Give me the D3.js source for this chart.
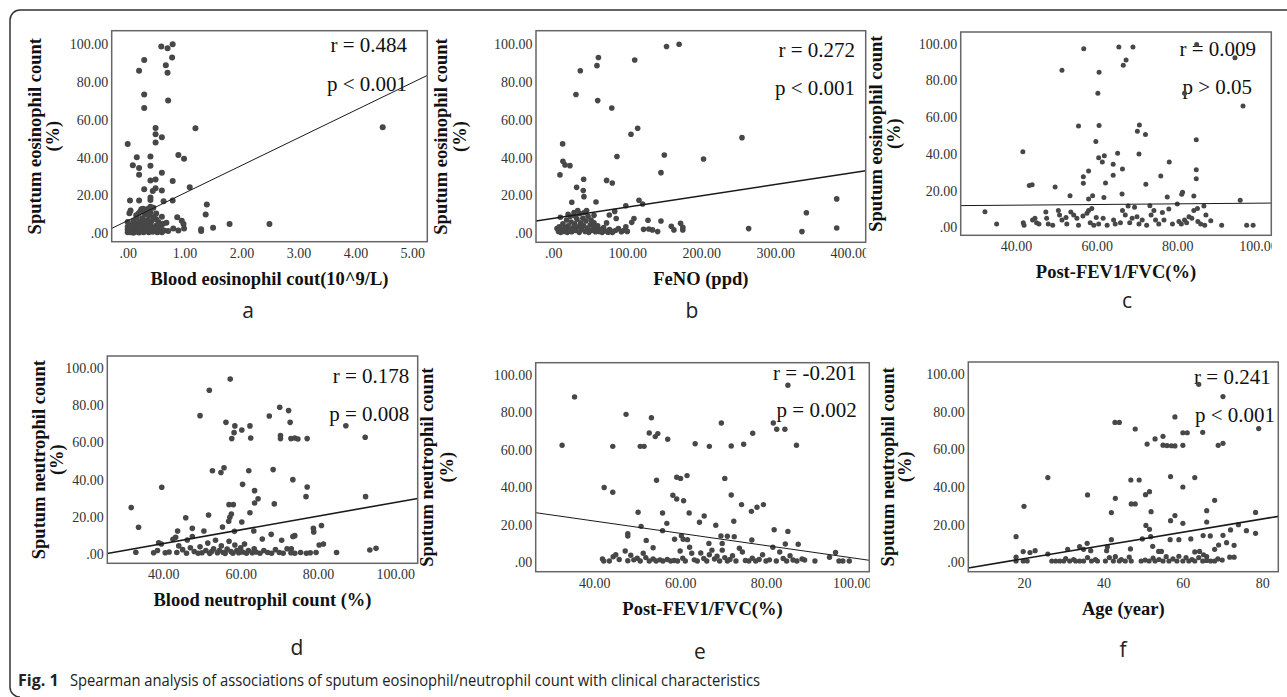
<!DOCTYPE html>
<html><head><meta charset="utf-8">
<script src="https://cdn.jsdelivr.net/npm/d3@7"></script>
<style>body{margin:0;background:#fff} svg{display:block}</style>
</head><body>
<svg id="chart" width="1287" height="697"></svg>
<script>
// ---------------- DATA ----------------
const ptsA = [[0.59,98.8],[0.70,97.9],[0.79,100],[0.29,91.7],[0.78,93],[0.20,86],[0.67,88.9],[0.70,85],[0.29,73.4],[0.71,70.2],[0.29,66.3],[1.19,55.6],[4.48,56.1],[0.49,55.7],[0.49,52.4],[0.60,50.8],[0.49,48],[0.0,47.3],[0.16,40.2],[0.40,40.6],[0.89,41.4],[0.99,39.5],[0.09,36],[0.20,34.6],[0.40,35.8],[0.20,31],[0.60,32],[0.40,28],[0.49,28.4],[0.79,27.7],[0.29,23.3],[1.09,24.3],[0.49,23.8],[0.44,22.4],[0.60,22.6],[0.40,19],[0.40,17.6],[0.04,17.3],[0.20,17.3],[0.63,16.9],[0.79,17.3],[1.39,15.3],[1.37,10],[0.03,10.6],[0.24,12.7],[0.40,14.1],[0.60,8.8],[0.68,5.6],[0.87,8.5],[0.95,6.7],[0.98,4.9],[1.79,4.9],[2.49,4.9],[1.50,3],[1.29,2.1],[1.29,1.2],[0.80,2.6],[0.89,1.5],[0.99,2.6],[0.60,1.8],[0.71,1.2],
[0.0,0.5],[0.0,2],[0.0,3.5],[0.02,1],[0.05,0.5],[0.05,2.8],[0.08,1.5],[0.08,4.5],[0.1,0.3],[0.1,6.5],[0.12,2.2],[0.14,0.8],[0.15,4],[0.16,8.5],[0.18,1.5],[0.19,10.5],[0.2,0.4],[0.2,3],[0.2,6],[0.22,11.5],[0.24,1.2],[0.25,4.8],[0.26,8],[0.28,0.6],[0.29,2.5],[0.3,5.5],[0.3,10],[0.31,12],[0.33,1.5],[0.34,3.8],[0.35,7],[0.37,0.5],[0.38,9.5],[0.4,2],[0.4,4.5],[0.4,11],[0.42,6.5],[0.44,0.8],[0.45,3],[0.46,8.5],[0.48,1.5],[0.5,4],[0.5,10.5],[0.52,0.5],[0.54,6],[0.55,2.5],[0.58,3.5],[0.6,0.6],[0.62,5],[0.64,1.5],[0.05,12],[0.12,5.5],[0.27,13],[0.35,12.8],[0.15,9.5],[0.45,13.5],[0.0,6],[0.33,6],[0.5,7.5]];

const ptsB = [[153,98.8],[170,100],[61,93],[110,91.7],[59,88.7],[36.5,86],[30.6,73.4],[60,70.2],[79,66.3],[114,55.6],[105,52.4],[255,50.6],[12.6,47.3],[86,40.6],[150,41.4],[203,39.3],[13,38.1],[15.8,36.2],[22.5,35.8],[9,30.9],[145.5,32.1],[41,28.6],[72,28],[79.7,26.6],[31.5,24.3],[40.5,22.6],[41.4,19.4],[25,16.4],[57.7,16.6],[115.8,17.5],[120.7,15.5],[98,14.6],[383,18.2],[342,10.9],[9.5,8.5],[83,11.6],[75.7,9.7],[85,7.8],[128,6.9],[145.5,6.5],[109,7.8],[106,5.8],[172,5.3],[159.5,3.7],[163,1.8],[175,1.8],[175,3.2],[122,2.1],[129,2.3],[134,1.8],[141,0.9],[264,2.5],[336,0.9],[383,2.8],
[5,2.5],[7,1],[8,3.5],[10,0.5],[12,2],[13,5],[15,1],[16,3],[18,7],[19,0.5],[20,4],[22,2],[23,9],[24,6],[25,0.8],[27,3],[28,11],[29,5],[30,1.5],[32,7.5],[33,12],[34,3.5],[35,0.5],[36,10.5],[37,5.5],[38,2],[40,8],[41,4],[42,11],[43,1],[44,6.5],[46,2.8],[47,9],[48,0.5],[50,4.5],[51,7],[52,1.5],[54,3],[55,5.5],[57,0.8],[58,2.5],[60,4],[62,1],[64,2],[66,0.5],[68,3],[70,1.2],[72,5.5],[74,0.6],[76,2],[78,1],[80,0.5],[84,1.5],[88,2.5],[92,0.8],[95,1.5],[98,3.5],[100,1],[30,9],[45,12],[20,10],[55,9.5]];

const ptsC = [[56.8,97.3],[65.5,98.2],[69,98.2],[84.8,99.6],[67.3,91.1],[66.6,88.2],[94.3,92.4],[51.4,85.5],[60.6,84.4],[60.3,73],[81.8,73],[96.3,66.1],[55.5,55.2],[60.6,55.4],[70.6,55.7],[70.1,52.3],[72.1,50.5],[84.7,47.7],[59.8,46.8],[41.7,41.2],[60.5,37.9],[61.9,39],[61.4,35.6],[65.2,40.3],[70.5,39.9],[78,35.6],[64.1,34.3],[66.4,31.8],[84.7,31.4],[58,30.7],[56.7,27.6],[64.1,28.3],[75.9,27.9],[84.7,26.5],[43.3,22.7],[44,23.2],[49.7,22],[56.7,24],[62.2,24.1],[72.2,23.4],[53.4,17.2],[59,17.2],[58,15.4],[61.8,16.2],[66.3,18.1],[77.5,16.5],[81.1,18],[81.3,19.1],[84.1,17.1],[95.6,14.7],[32.3,8.5],[35.2,1.8],[91,1.1],[97.2,1.1],[98.8,1.1],
[41.8,2.5],[42,1.1],[44.1,4],[44.7,4.9],[45.1,2.5],[45.7,1.8],[47.4,8.3],[47.6,4.9],[48,1.8],[49.1,1.1],[50.5,9.1],[50.8,6.7],[51.4,4],[52.4,5.4],[52.6,1.8],[53.6,8.3],[54.3,6.7],[55.1,4.9],[55.5,1.1],[56.6,6.2],[57.6,7.6],[58,9.1],[58.8,10.3],[58.4,2.5],[59.3,1.1],[59.9,5.4],[60.5,1.8],[61.6,4.9],[62.6,1.1],[64.2,4],[64.6,1.8],[65.9,2.5],[66.4,9.1],[67.1,6.7],[67.8,11.6],[68.2,2.5],[68.8,4.9],[69.4,10.9],[70,5.8],[70.5,1.8],[71.3,4],[72.4,1.1],[73.2,11.8],[73.5,6.7],[74.2,9.1],[74.6,4],[75.4,1.8],[76.3,8],[76.7,4],[77.9,10],[78.8,1.8],[80,12.7],[80.4,3.1],[81,1.8],[81.8,4],[82.3,2.5],[82.9,5.8],[83.6,4.9],[84.1,9.1],[85,10.3],[85.1,3.1],[85.8,1.8],[86.6,11.6],[87.1,6.7],[86.8,1.1],[88.3,3.6]];

const ptsD = [[57.3,93.9],[51.9,87.9],[49.5,74.3],[67.4,74.1],[70.1,78.8],[72.4,77],[72.8,70.7],[56.2,70.7],[58.5,68.8],[58.3,65.2],[57.7,62],[60.3,66.6],[62.4,68.8],[62.6,62.3],[70.3,63.6],[70.3,62],[73,62],[74,62.3],[74.8,61.8],[77.2,62],[87.2,68.9],[92.2,62.7],[92.3,30.9],[52.7,44.8],[54.9,43.8],[55.7,46.4],[62.1,44.8],[68.4,45.4],[39.6,35.9],[60.5,37.5],[73.5,40],[77.2,36.1],[76.9,30.9],[63.6,34.1],[64.5,29.8],[63.6,27.5],[57,26.6],[58.1,26.6],[68.7,27],[31.7,25],[33.6,14.5],[45.8,19.6],[51.7,21.1],[57.6,21.6],[57.2,19.8],[56.9,17.7],[62.4,22.3],[60.3,17.3],[55.3,14.6],[58.4,12.3],[63.4,12.5],[43.7,12.5],[50.5,12.5],[47.5,13.9],[78.8,13.9],[78.9,12],[80.9,15.4],[67.9,10.7],[74,10],[73.5,9.5],[65.6,8.2],[70.6,7.5],[73.1,2.9],[81.4,5.5],[80.3,5],[84.8,1],[93.4,2.3],[95,3.2],[32.9,1.1],[38.8,6.2],[43.2,9.1],[46.2,7.7],
[37.5,0.8],[38.5,2],[39.5,5.5],[40.5,0.8],[41.5,1.2],[42.5,8],[43.5,1],[44,4.5],[45,2.5],[46,0.6],[47,3.5],[47.5,9.5],[48,1.5],[49,0.6],[49.5,4],[50,0.8],[51,2],[51.5,6],[52,0.5],[52.5,1.5],[53,3],[53.5,7.5],[54,0.8],[54.5,2],[55,4.5],[55.5,1],[56,0.5],[56.5,2.8],[57,7],[57.5,1.5],[58,0.6],[58.5,5],[59,2],[59.5,0.8],[60,3.5],[60.5,1.2],[61,5.5],[61.5,0.6],[62,2],[63,0.8],[63.5,3],[64,1.2],[65,0.6],[66,2],[67,1],[68,0.6],[69,2.5],[70,1],[71,0.6],[72,3],[73,0.8],[74,0.6],[75.5,1],[77,0.6],[78,0.8],[79.5,1]];

const ptsE = [[32.5,62.5],[35.4,88.3],[47.4,79],[53.3,77.2],[52.8,69],[54.8,68.7],[54.2,67.1],[57.1,65.7],[50.7,61.9],[51.6,61.9],[44.3,61.9],[63.5,63.3],[66.8,61.9],[69.6,74.4],[71.9,62.1],[74.8,63],[76.9,68.9],[81.7,74.4],[82.5,71],[84.4,71],[87.1,62.5],[85.1,94.5],[42.3,39.9],[44.3,37.4],[54.5,43.8],[59.2,45.4],[60.1,44.8],[61.6,46.3],[70.4,44.8],[58.3,35.8],[59.2,33.8],[60.8,32.9],[71.9,35.9],[74.3,30.8],[76.6,27.2],[77.9,29.4],[79.4,30.8],[50.2,26.7],[55.9,26.3],[62.1,26.3],[65.6,24.7],[50.9,19.2],[56.9,20.8],[64.5,21.4],[68.3,19.8],[72.5,21.9],[47.8,15.3],[47.8,14],[55.9,16.9],[81.9,17.4],[85.1,16.5],[52.1,11.7],[53.7,7.8],[58.7,12.3],[60.3,14.2],[60.7,12.3],[61.7,12.1],[76.7,11.9],[69.5,14.1],[71,13.9],[72.6,13.7],[66.7,10.1],[69.8,10.1],[84.5,9.8],[87.5,9.6],[91.4,0.7],[94.8,2.7],[96.2,5.2],[97,0.7],[97.9,0.7],[99.4,0.7],
[41.9,1.8],[42.2,0.7],[43.5,0.7],[44.4,3],[45,4],[45.8,1.5],[47.2,6],[47.8,0.8],[48.5,3.8],[49.2,1.3],[50,2.2],[50.7,0.7],[51.4,4.8],[52,2.5],[52.8,0.7],[53.7,1.8],[54.4,0.7],[55.3,1.3],[56,0.7],[57,1.5],[57.8,0.7],[58.6,1],[59.4,0.7],[60,6],[60.6,2.2],[61.2,0.7],[62.2,8],[62.7,4.8],[63.3,1.3],[64,0.7],[64.8,5],[65.5,2],[66.2,0.7],[66.8,4],[67.4,6.5],[68,1.8],[68.6,3.2],[69.2,0.7],[69.8,6.5],[70.4,2.5],[71,0.7],[71.6,1.5],[72.2,3.5],[73,0.7],[73.8,7.5],[74.5,5.5],[75.2,1],[76,0.7],[76.8,2.2],[77.6,0.7],[78.4,1.5],[79.2,4],[80,0.7],[80.8,1.3],[81.6,8],[82.4,0.7],[83.2,5.5],[84,2],[84.8,0.7],[85.6,3.5],[86.3,1.2],[87.2,0.7],[88.4,1.8],[89,1.2]];

const ptsF = [[64,94.5],[70.1,88],[79.1,71],[42.9,74.3],[44,74.3],[48,70.8],[58,77.2],[60,68.8],[61.1,68.8],[65,69],[55,66.9],[53,65.5],[51,62.8],[55,62.2],[56,62],[57.1,61.9],[58,61.8],[60,62.1],[68.9,62.1],[70.1,63.2],[26,45],[49,43.7],[46.9,43.7],[56.9,45.5],[63,45],[60,40],[36,35.8],[43,34],[50.6,35.9],[51.6,37.5],[47,31],[48,31],[68,32.9],[20,29.7],[42,26.4],[52,26.9],[66,27.4],[78.3,26.5],[58,24.8],[56.9,22.1],[50.7,19.6],[51.6,17.5],[60,20.7],[66,21.4],[74,20],[72,17.2],[78.3,15.4],[76,16.8],[18,13.6],[65.1,14.2],[66.9,14],[70.1,14.3],[51.9,13.6],[42,12],[62,12.4],[59,12],[56.8,12],[35.9,10.1],[49.8,12.4],[69,9.2],[68,6.9],[71,10.4],[72.9,9],[52.4,8.5],[53.9,5.8],[54.6,5.8],[46.8,7.1],[40.8,6.2],[41,8.3],[34,8.3],[35,6.9],[36.8,6.2],[31,6.9],[19.8,5.7],[21.5,5.2],[22.8,6.2],[26,4.4],[71.8,2.7],[72.9,2.7],[68.8,1.8],[69.9,1.2],[18,2.7],[18,0.7],[19.8,0.7],[20.8,0.7],[63,5.5],[64.2,5.8],[65.2,4],[66,3],[66,1],
[27,0.7],[28,0.7],[29,0.7],[30,0.7],[30.5,2],[31.5,0.7],[32.5,1.5],[33,0.7],[34,0.7],[35,0.7],[36,2.5],[37,0.7],[38,1.5],[38.5,0.7],[40.5,0.7],[41.5,2.5],[42.5,0.7],[43,3],[44,0.7],[44.5,1.5],[45.5,0.7],[46.5,2.8],[47,0.7],[49.5,0.7],[50.5,1.2],[51.5,0.7],[52.5,2.2],[53,0.7],[54,1.5],[55,0.7],[55.8,3],[56.5,0.7],[57.5,1.8],[58.5,0.7],[59,3.2],[60,0.7],[60.8,2.5],[61.5,0.7],[62.3,1.5],[63,0.7],[64,2.5],[65,0.7],[67,0.7],[68,0.7]];

const xTicksA = [0, 1, 2, 3, 4, 5];
const xTicksB = [0, 100, 200, 300, 400];
const xTicksC = [40, 60, 80, 100];
const xTicksD = [40, 60, 80, 100];
const xTicksE = [40, 60, 80, 100];
const xTicksF = [20, 40, 60, 80];
const yTicks = [0, 20, 40, 60, 80, 100];

const xTitles = ["Blood eosinophil cout(10^9/L)", "FeNO (ppd)", "Post-FEV1/FVC(%)",
                 "Blood neutrophil count (%)", "Post-FEV1/FVC(%)", "Age (year)"];
const yTitles = ["Sputum eosinophil count", "Sputum eosinophil count", "Sputum eosinophil count",
                 "Sputum neutrophil count", "Sputum neutrophil count", "Sputum neutrophil count"];
const panelLetters = ["a", "b", "c", "d", "e", "f"];
const statR = ["r = 0.484", "r = 0.272", "r = 0.009", "r = 0.178", "r = -0.201", "r = 0.241"];
const statP = ["p < 0.001", "p < 0.001", "p > 0.05", "p = 0.008", "p = 0.002", "p < 0.001"];
const fitIntercepts = [6.7, 7.9, 11.33, -8.9, 35.1, -5.1];
const fitSlopes = [14.6, 0.0597, 0.0181, 0.367, -0.327, 0.351];
const captionBold = "Fig. 1";
const captionText = "Spearman analysis of associations of sputum eosinophil/neutrophil count with clinical characteristics";

// ---------------- LAYOUT (pixels) ----------------
const layout = [
  {pts: ptsA, xt: xTicksA, box:[111.7,30.7,427.3,241.7], xd:[0,5], xr:[127.7,412.3], yr:[233.3,44.3], yt:[35,53], r:[407,52], p:[407,91], letter:[248,318], rad:3.0, fw:1.0, intFmt:false},
  {pts: ptsB, xt: xTicksB, box:[536,30.7,865.7,242.3], xd:[0,400], xr:[553.3,849.3], yr:[233.3,44.3], yt:[441,460], r:[855,57], p:[855,95], letter:[692,318], rad:2.8, fw:1.6, intFmt:false},
  {pts: ptsC, xt: xTicksC, box:[960.7,32,1271.3,235.3], xd:[40,80], xr:[1016,1177.3], yr:[227.3,43.7], yt:[876,894], r:[1256,56], p:[1252,94], letter:[1127,308], rad:2.5, fw:1.0, intFmt:false},
  {pts: ptsD, xt: xTicksD, box:[107.3,356,417.7,563.3], xd:[40,80], xr:[163.3,318], yr:[554.3,367.7], yt:[38.3,56.7], r:[409.3,383.3], p:[409.3,421], letter:[297,655], rad:2.8, fw:1.6, intFmt:false},
  {pts: ptsE, xt: xTicksE, box:[535.7,362.7,869.3,571.7], xd:[40,80], xr:[594.3,766], yr:[562.3,375], yt:[427,447], r:[856.7,380], p:[856.7,417.3], letter:[700,659], rad:2.7, fw:1.0, intFmt:false},
  {pts: ptsF, xt: xTicksF, box:[968.3,362,1278.3,571.7], xd:[20,80], xr:[1024,1262.3], yr:[562.3,374], yt:[888,905], r:[1270.7,384], p:[1275,422.3], letter:[1123,657], rad:2.6, fw:1.6, intFmt:true}
];

const SERIF = "'Liberation Serif','Times New Roman',serif";
const SANS = "'Open Sans','Noto Sans',sans-serif";
const svg = d3.select("#chart");

// outer frame
svg.append("path")
  .attr("d", "M1287,10 H20 A10,10 0 0 0 10,20 V687 A10,10 0 0 0 20,697")
  .attr("fill", "none").attr("stroke", "#333").attr("stroke-width", 1.5);

const fmt2 = d => d === 0 ? ".00" : d3.format(".2f")(d);

layout.forEach((L, i) => {
  const [bx0, by0, bx1, by1] = L.box;
  const x = d3.scaleLinear().domain(L.xd).range(L.xr);
  const y = d3.scaleLinear().domain([0, 100]).range(L.yr);
  const g = svg.append("g");

  const clipId = "clip" + i;
  svg.append("clipPath").attr("id", clipId)
    .append("rect").attr("x", bx0).attr("y", by0).attr("width", bx1 - bx0).attr("height", by1 - by0);
  const clipLbl = "clipl" + i;
  svg.append("clipPath").attr("id", clipLbl)
    .append("rect").attr("x", bx0 - 60).attr("y", by1).attr("width", bx1 - bx0 + 60.5).attr("height", 30);

  // y tick labels (axis without lines)
  const yAxis = d3.axisLeft(y).tickValues(yTicks).tickSize(0).tickPadding(3.5).tickFormat(fmt2);
  const ya = g.append("g").attr("transform", `translate(${bx0},0)`).call(yAxis);
  ya.select(".domain").remove();
  ya.selectAll("text").attr("font-family", SERIF).attr("font-size", 14).attr("fill", "#333");

  // x tick labels (clipped at the plot's right edge)
  const xAxis = d3.axisBottom(x).tickValues(L.xt).tickSize(0).tickPadding(6)
    .tickFormat(L.intFmt ? d3.format("d") : fmt2);
  const xwrap = g.append("g").attr("clip-path", `url(#${clipLbl})`);
  const xa = xwrap.append("g").attr("transform", `translate(0,${by1})`).call(xAxis);
  xa.select(".domain").remove();
  xa.selectAll("text").attr("font-family", SERIF).attr("font-size", 14).attr("fill", "#333");

  // stats text
  g.append("text").attr("x", L.r[0]).attr("y", L.r[1]).attr("text-anchor", "end")
    .attr("font-family", SERIF).attr("font-size", 21).attr("fill", "#111").text(statR[i]);
  g.append("text").attr("x", L.p[0]).attr("y", L.p[1]).attr("text-anchor", "end")
    .attr("font-family", SERIF).attr("font-size", 21).attr("fill", "#111").text(statP[i]);

  // points
  g.append("g").selectAll("circle").data(L.pts).join("circle")
    .attr("cx", d => x(d[0])).attr("cy", d => y(d[1])).attr("r", L.rad)
    .attr("fill", "#474747");

  // fit line
  const xl = x.invert(bx0), xr = x.invert(bx1);
  g.append("line").attr("clip-path", `url(#${clipId})`)
    .attr("x1", x(xl)).attr("y1", y(fitIntercepts[i] + fitSlopes[i] * xl))
    .attr("x2", x(xr)).attr("y2", y(fitIntercepts[i] + fitSlopes[i] * xr))
    .attr("stroke", "#1a1a1a").attr("stroke-width", L.fw);

  // box
  g.append("rect").attr("x", bx0).attr("y", by0).attr("width", bx1 - bx0).attr("height", by1 - by0)
    .attr("fill", "none").attr("stroke", "#666").attr("stroke-width", 1.5);

  // x title
  g.append("text").attr("x", (bx0 + bx1) / 2).attr("y", by1 + 43).attr("text-anchor", "middle")
    .attr("font-family", SERIF).attr("font-weight", "bold").attr("font-size", 18.5).attr("fill", "#111")
    .text(xTitles[i]);

  // y title (two lines)
  const cy = (by0 + by1) / 2;
  [[yTitles[i], L.yt[0]], ["(%)", L.yt[1]]].forEach(([t, xx]) => {
    g.append("text").attr("transform", `translate(${xx},${cy}) rotate(-90)`)
      .attr("dy", "0.35em").attr("text-anchor", "middle")
      .attr("font-family", SERIF).attr("font-weight", "bold").attr("font-size", 18.5).attr("fill", "#111")
      .text(t);
  });

  // panel letter
  g.append("text").attr("x", L.letter[0]).attr("y", L.letter[1]).attr("text-anchor", "middle")
    .attr("font-family", SANS).attr("font-size", 21).attr("fill", "#222").text(panelLetters[i]);
});

// caption
svg.append("text").attr("x", 18).attr("y", 686)
  .attr("font-family", SANS).attr("font-size", 16).attr("font-weight", "bold").attr("fill", "#222")
  .text(captionBold);
svg.append("text").attr("x", 70).attr("y", 686)
  .attr("font-family", SANS).attr("font-size", 16).attr("fill", "#222")
  .attr("textLength", 690).attr("lengthAdjust", "spacingAndGlyphs")
  .text(captionText);
</script>
</body></html>
